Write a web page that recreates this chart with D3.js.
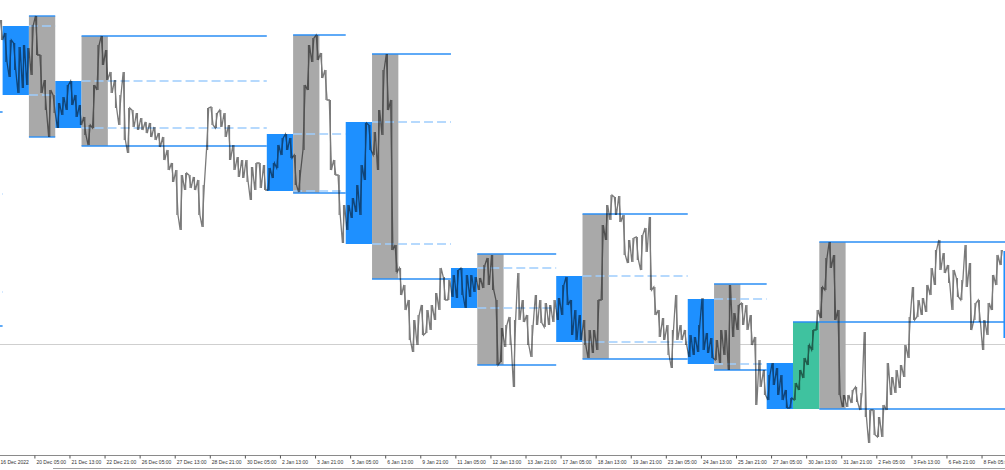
<!DOCTYPE html>
<html><head><meta charset="utf-8">
<script src="https://cdn.jsdelivr.net/npm/d3@7/dist/d3.min.js"></script>
<style>html,body{margin:0;padding:0;background:#fff;overflow:hidden}</style>
</head><body>
<svg id="c" width="1005" height="470"></svg>
<script>
// ---- data (price in points, time in H1 bar index) ----
const STEP = 4; // bars per sample
const priceHigh = [980,967,960,957,953,955,952,975,984,945,920,910,905,897,903,915,919,905,895,883,
875,915,955,964,950,928,920,905,928,892,890,887,882,878,877,873,867,863,850,837,
830,825,827,825,823,820,815,892,893,887,890,887,875,855,843,840,840,833,837,837,
835,832,837,855,862,866,862,845,830,915,955,962,965,947,930,900,840,825,795,795,
802,815,835,877,875,868,890,930,946,900,755,732,715,700,680,685,695,690,695,707,
732,723,720,725,730,732,725,725,723,722,735,742,745,700,672,675,683,680,727,700,
685,675,705,700,697,695,700,702,715,723,700,690,685,680,670,670,700,775,795,805,
803,804,785,760,762,763,765,772,783,713,690,682,675,670,705,675,670,665,663,675,
702,667,662,660,670,670,715,687,695,697,695,685,663,640,630,625,637,632,625,610,
602,617,630,642,655,670,690,713,742,758,745,690,605,605,610,613,607,668,590,590,
583,595,637,623,630,635,655,683,713,700,702,715,732,750,760,747,735,730,722,720,
755,737,697,700,680,697,725,745,750];
const priceLow = [960,938,923,930,907,912,915,925,945,907,890,863,887,872,885,890,895,883,875,865,
855,872,910,935,920,907,892,875,860,847,873,870,870,867,863,860,853,840,830,818,
785,770,810,812,810,785,773,850,875,872,873,863,840,830,823,822,818,800,810,812,
810,810,822,832,845,850,842,815,808,850,910,938,940,922,900,830,825,785,757,770,
782,788,785,820,850,845,830,865,890,750,728,705,690,660,648,655,665,667,670,680,
690,700,700,703,702,705,692,703,708,710,712,715,710,635,638,653,655,613,680,678,
655,643,675,677,673,675,678,680,685,695,665,660,660,655,642,647,650,700,760,780,
785,778,745,737,738,740,730,748,710,685,663,660,645,632,660,660,655,643,645,648,
650,647,642,640,637,645,630,663,670,675,670,655,595,613,605,600,615,605,600,592,
592,600,610,622,635,650,670,682,710,732,680,605,593,593,597,598,590,583,557,565,
563,563,590,605,607,612,623,642,680,683,685,688,705,715,730,727,717,690,703,700,
713,670,680,678,650,665,690,715,735];

const DAY = 24; // bars per box
const blueFrom  = [-69, 3, 51, 244, 316, 412, 508, 628, 700, 916];
const blueHigh  = [806, 974, 919, 866, 878, 732, 724, 701, 637, 749];
const blueLow   = [708, 905, 872, 809, 756, 692, 658, 636, 591, 662];
const grayFrom  = [-45, 27, 75, 268, 340, 436, 532, 652, 748];
const grayHigh  = [888, 984, 964, 965, 946, 746, 786, 716, 758];
const grayLow   = [674, 863, 854, 807, 721, 635, 641, 630, 591];
const greenFrom = [724];
const greenHigh = [678];
const greenLow  = [591];
const refLevel  = 656;

const firstLabel = "16 Dec 2022";
const tickEvery = 32;
const tickLabels = ["20 Dec 05:00","21 Dec 13:00","22 Dec 21:00","26 Dec 05:00","27 Dec 13:00",
"28 Dec 21:00","30 Dec 05:00","2 Jan 13:00","3 Jan 21:00","5 Jan 05:00","6 Jan 13:00",
"9 Jan 21:00","11 Jan 05:00","12 Jan 13:00","13 Jan 21:00","17 Jan 05:00","18 Jan 13:00",
"19 Jan 21:00","23 Jan 05:00","24 Jan 13:00","25 Jan 21:00","27 Jan 05:00","30 Jan 13:00",
"31 Jan 21:00","2 Feb 05:00","3 Feb 13:00","6 Feb 21:00","8 Feb 05:00"];

// ---- layout ----
const W = 1005, PH = 455;
const svg = d3.select("#c");
const x = d3.scaleLinear().domain([0.62, 917.4]).range([0, W]);
const y = d3.scaleLinear().domain([545, 1000]).range([PH, 0]);
const xEnd = x.domain()[1] + 2;

svg.append("clipPath").attr("id","plot").append("rect")
  .attr("x",0).attr("y",0).attr("width",W).attr("height",PH);
const g = svg.append("g").attr("clip-path","url(#plot)");

// reference level
g.append("line").attr("x1",0).attr("x2",W)
  .attr("y1",Math.round(y(refLevel))+0.5).attr("y2",Math.round(y(refLevel))+0.5)
  .attr("stroke","#cfcfcf").attr("stroke-width",1);

function box(from, hi, lo, fill){
  g.append("rect")
    .attr("x", x(from)).attr("width", x(from+DAY)-x(from))
    .attr("y", y(hi)).attr("height", y(lo)-y(hi))
    .attr("fill", fill);
}
blueFrom.forEach((b,i)=>box(b, blueHigh[i], blueLow[i], "#1e90ff"));
grayFrom.forEach((b,i)=>box(b, grayHigh[i], grayLow[i], "#a9a9a9"));
greenFrom.forEach((b,i)=>box(b, greenHigh[i], greenLow[i], "#3fc29f"));

function level(from, to, p, dashed){
  g.append("line")
    .attr("x1", x(from)).attr("x2", x(to))
    .attr("y1", y(p)).attr("y2", y(p))
    .attr("stroke", dashed ? "#9fcdfd" : "#2a8ef5")
    .attr("stroke-width", 1.4)
    .attr("stroke-dasharray", dashed ? "9,4" : null);
}
grayFrom.forEach((b,i)=>{
  if (i < grayFrom.length-1) {
    const to = blueFrom[i+1];
    level(b, to, blueHigh[i], true);
    level(b, to, blueLow[i], true);
    level(b, to, grayHigh[i], false);
    level(b, to, grayLow[i], false);
  } else {
    level(b, xEnd, grayHigh[i], false);
    level(b, xEnd, grayLow[i], false);
    greenFrom.forEach((gb,j)=>level(gb, xEnd, greenHigh[j], false));
  }
});

// price line (zig-zag through each sample's high/low) + per-sample range strokes
const pts = [];
priceHigh.forEach((h,k)=>{
  const l = priceLow[k], mid = (h+l)/2;
  const nm = k+1 < priceHigh.length ? (priceHigh[k+1]+priceLow[k+1])/2 : mid;
  const b = k*STEP;
  if (nm < mid) { pts.push([b+1,h],[b+3,l]); } else { pts.push([b+1,l],[b+3,h]); }
});
const pg = g.append("g").style("mix-blend-mode","multiply");
pg.selectAll("line.rng").data(priceHigh).join("line").attr("class","rng")
  .attr("x1",(d,k)=>x(k*STEP+2)).attr("x2",(d,k)=>x(k*STEP+2))
  .attr("y1",d=>y(d)).attr("y2",(d,k)=>y(priceLow[k]))
  .attr("stroke","#7a7a7a").attr("stroke-width",1.2);
pg.append("path").datum(pts)
  .attr("d", d3.line().x(d=>x(d[0])).y(d=>y(d[1])))
  .attr("fill","none").attr("stroke","#7a7a7a").attr("stroke-width",1.3);

// axis
const ax = svg.append("g").attr("transform",`translate(0,${PH+0.5})`)
  .call(d3.axisBottom(x)
    .tickValues(tickLabels.map((_,i)=>(i+1)*tickEvery))
    .tickFormat((d,i)=>tickLabels[i]).tickSize(3).tickSizeOuter(0));
ax.select(".domain").attr("stroke","#8a8a8a").attr("d",`M0,0H${W}`);
ax.selectAll(".tick line").attr("stroke","#555");
ax.selectAll(".tick text").attr("text-anchor","start").attr("x",1.5).attr("y",8.5).attr("dy",0)
  .attr("fill","#333").style("font-family","'Liberation Sans', Arial, sans-serif").style("font-size","5px");
svg.append("text").attr("x",0.5).attr("y",PH+9).text(firstLabel)
  .attr("fill","#333").style("font-family","'Liberation Sans', Arial, sans-serif").style("font-size","5px");
svg.append("line").attr("x1",53).attr("x2",W).attr("y1",468.5).attr("y2",468.5)
  .attr("stroke","#a0a0a0");
</script>
</body></html>
